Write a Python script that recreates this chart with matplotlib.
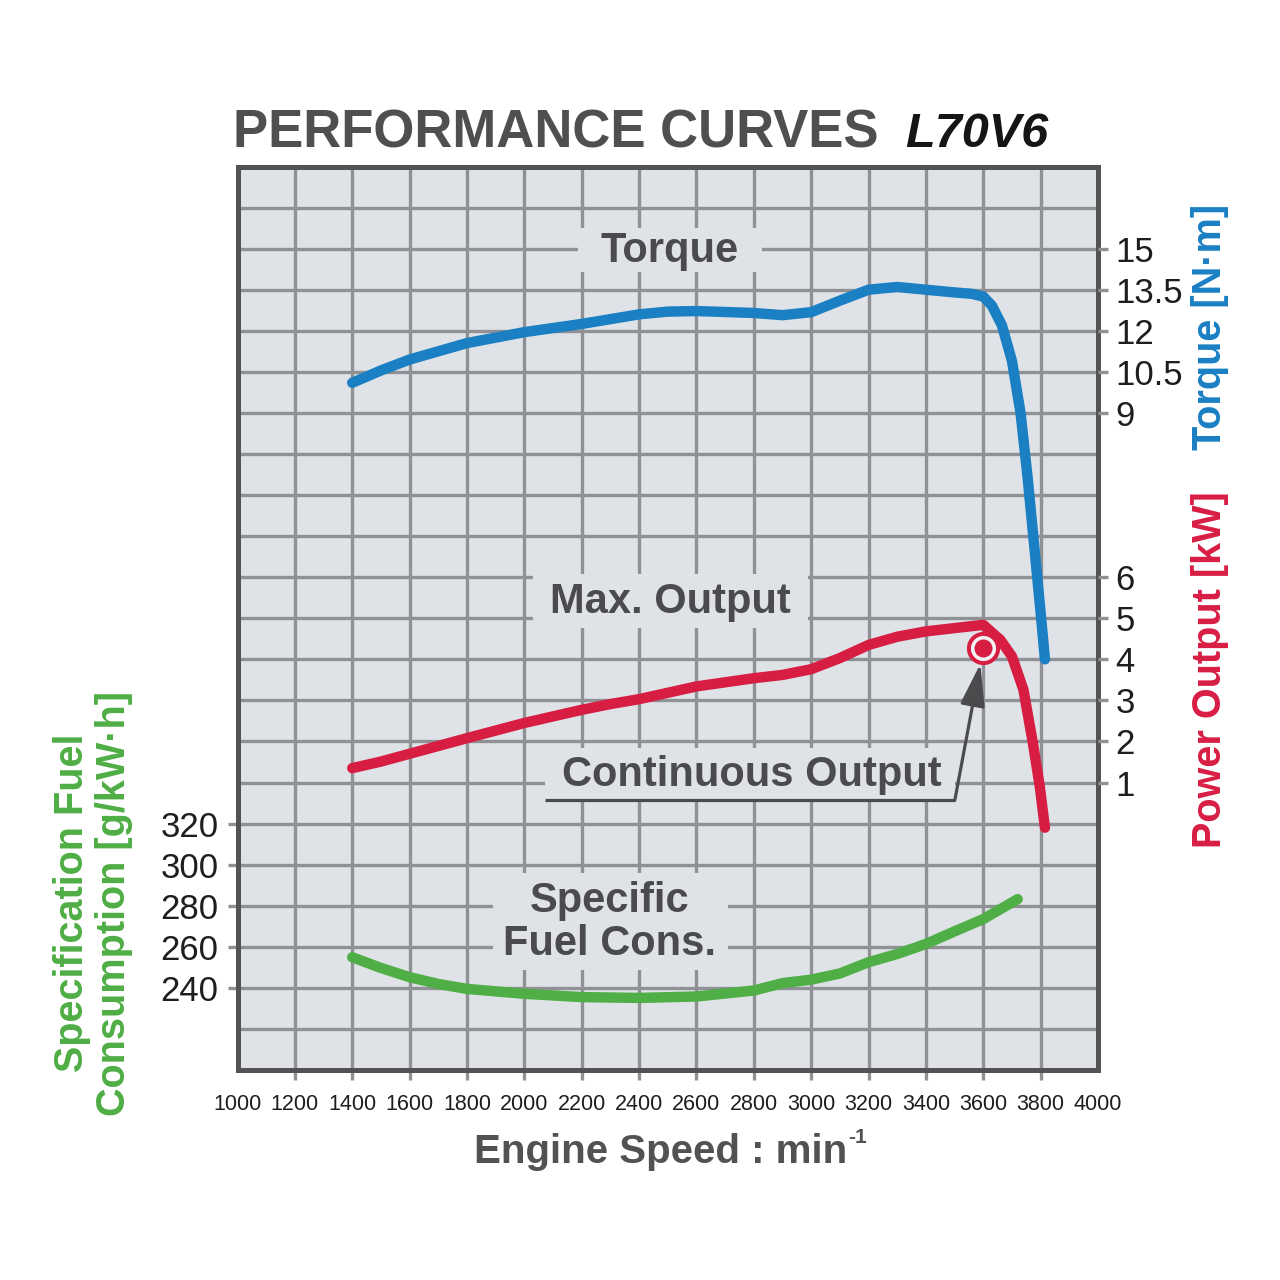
import numpy as np
import matplotlib
matplotlib.use("Agg")
import matplotlib.pyplot as plt
from matplotlib.patches import Rectangle

plt.rcParams['font.family'] = ['Liberation Sans', 'DejaVu Sans']

# ---- data ----
rpm_torque = [1400, 1500, 1600, 1800, 2000, 2200, 2400, 2500, 2600, 2800, 2900, 3000,
              3100, 3200, 3300, 3400, 3500, 3560, 3600, 3630, 3665, 3700, 3730, 3755,
              3778, 3800, 3815]
torque = [10.1, 10.55, 10.95, 11.55, 11.95, 12.25, 12.6, 12.7, 12.72, 12.65, 12.57, 12.68,
          13.1, 13.5, 13.6, 13.5, 13.4, 13.35, 13.25, 12.92, 12.2, 10.9, 9.0, 6.6,
          4.1, 1.7, 0.0]

rpm_power = [1400, 1500, 1600, 1800, 2000, 2200, 2300, 2400, 2600, 2800, 2900, 3000,
             3100, 3200, 3300, 3400, 3500, 3600, 3660, 3700, 3740, 3773, 3797, 3815]
power = [1.35, 1.51, 1.70, 2.08, 2.45, 2.77, 2.91, 3.03, 3.34, 3.54, 3.62, 3.76,
         4.03, 4.35, 4.55, 4.68, 4.76, 4.84, 4.47, 4.07, 3.26, 1.96, 0.90, -0.1]

rpm_fuel = [1400, 1500, 1600, 1700, 1800, 2000, 2200, 2400, 2600, 2800, 2900, 3000,
            3100, 3200, 3300, 3400, 3500, 3600, 3700, 3720]
fuel = [254.9, 249.7, 245.2, 241.9, 239.5, 237.1, 235.5, 235.1, 235.8, 238.7, 242.3, 244.0,
        247.0, 252.5, 256.5, 261.4, 267.5, 273.5, 281.6, 283.2]

cont_rpm, cont_kw = 3600, 4.27   # continuous output point

x_ticks = list(range(1000, 4001, 200))
fuel_ticks = [240, 260, 280, 300, 320]
torque_ticks = [9, 10.5, 12, 13.5, 15]
torque_labels = ['9', '10.5', '12', '13.5', '15']
power_ticks = [1, 2, 3, 4, 5, 6]

# ---- styling ----
BG = '#dfe3e8'
GRID = '#8f9195'
FRAME = '#535355'
TXT = '#4b4b4e'
BLUE = '#1a7fc3'
RED = '#d81d43'
GREEN = '#4fae45'
LW = 7.5

fig = plt.figure(figsize=(12.8, 12.8), dpi=100)
ax = fig.add_axes([237.5 / 1280, 1 - 1070 / 1280, 860.5 / 1280, 903.5 / 1280])
ax.set_facecolor(BG)
ax.set_xlim(1000, 4000)
ax.set_ylim(200, 640)

ax.set_xticks(x_ticks)
ax.set_yticks(fuel_ticks)
ax.set_yticks(np.arange(200, 641, 20), minor=True)
ax.grid(which='both', color=GRID, lw=2.4)
ax.tick_params(axis='y', which='minor', length=0)
ax.tick_params(axis='both', which='major', length=7.5, width=2.4, color=GRID,
               labelcolor='#1e1e1e', labelsize=25, pad=6)
ax.tick_params(axis='x', labelsize=15.5, pad=10)
xt = ax.xaxis.get_major_ticks()
xt[0].tick1line.set_visible(False)
xt[-1].tick1line.set_visible(False)
for sp in ax.spines.values():
    sp.set_color(FRAME)
    sp.set_linewidth(3.6)
    sp.set_zorder(10)

# label boxes (hide the grid behind the captions)
def caption(x0, x1, y0, y1, text, tx, ty):
    ax.add_patch(Rectangle((x0, y0), x1 - x0, y1 - y0, facecolor=BG, edgecolor='none', zorder=3))
    ax.text(tx, ty, text, ha='center', va='center', fontsize=30, fontweight='bold',
            color=TXT, zorder=4, linespacing=1.12)

caption(2187, 2828, 588.6, 610.0, 'Torque', 2508, 598.8)
caption(2030, 2989, 415.3, 441.6, 'Max. Output', 2508, 428.0)
caption(2072, 3501, 331.5, 356.8, 'Continuous Output', 2794, 343.5)
caption(1891, 2710, 248.7, 295.9, 'Specific\nFuel Cons.', 2298, 271.8)

# fuel curve on the main (left) axis
ax.plot(rpm_fuel, fuel, color=GREEN, lw=LW, solid_capstyle='round', solid_joinstyle='round',
        zorder=5)

# torque axis
tax = ax.twinx()
tax.set_ylim(-15, 18)
tax.set_yticks(torque_ticks, torque_labels)
tax.plot(rpm_torque, torque, color=BLUE, lw=LW, solid_capstyle='round', solid_joinstyle='round')

# power axis
pax = ax.twinx()
pax.set_ylim(-6, 16)
pax.set_yticks(power_ticks)
pax.plot(rpm_power, power, color=RED, lw=LW, solid_capstyle='round', solid_joinstyle='round')
pax.plot([cont_rpm], [cont_kw], 'o', ms=21, mfc='#f3f3f3', mec=RED, mew=2.9)
pax.plot([cont_rpm], [cont_kw], 'o', ms=13, mfc=RED, mec='none')

# underline + arrow for the continuous output caption
pax.plot([2072, 3501], [0.576, 0.576], color=TXT, lw=2.3, solid_capstyle='butt')
pax.annotate('', xy=(cont_rpm, cont_kw), xytext=(3501, 0.576),
             arrowprops=dict(arrowstyle='-|>,head_length=1.3,head_width=0.38', color=TXT,
                             lw=2.3, mutation_scale=20, shrinkA=0, shrinkB=11.5))

for t in (tax, pax):
    for sp in t.spines.values():
        sp.set_visible(False)
    t.tick_params(axis='y', length=7.5, width=2.4, color=GRID, labelcolor='#1e1e1e',
                  labelsize=25, pad=5)

# titles and axis captions
fig.text(233 / 1280, 1 - 147 / 1280, 'PERFORMANCE CURVES', fontsize=38, fontweight='bold',
         color='#4f4f52', va='baseline', ha='left')
fig.text(905 / 1280, 1 - 147 / 1280, 'L70V6', fontsize=35, fontweight='bold', style='italic',
         color='#151515', va='baseline', ha='left')
fig.text(847 / 1280, 1 - 1163 / 1280, 'Engine Speed : min', fontsize=29,
         fontweight='bold', color='#525255', va='baseline', ha='right')
fig.text(848 / 1280, 1 - 1143 / 1280, '-1', fontsize=15,
         fontweight='bold', color='#525255', va='baseline', ha='left')
fig.text(1210 / 1280, 1 - 327 / 1280, 'Torque [N\u00b7m]', fontsize=28.5, fontweight='bold',
         color=BLUE, rotation=90, va='center', ha='center')
fig.text(1210 / 1280, 1 - 670 / 1280, 'Power Output [kW]', fontsize=28.5, fontweight='bold',
         color=RED, rotation=90, va='center', ha='center')
fig.text(93 / 1280, 1 - 903 / 1280, 'Specification Fuel\nConsumption [g/kW\u00b7h]', fontsize=28.5,
         fontweight='bold', color=GREEN, rotation=90, va='center', ha='center',
         multialignment='center', linespacing=1.15)

fig.savefig('out.png', dpi=100, facecolor='white')
